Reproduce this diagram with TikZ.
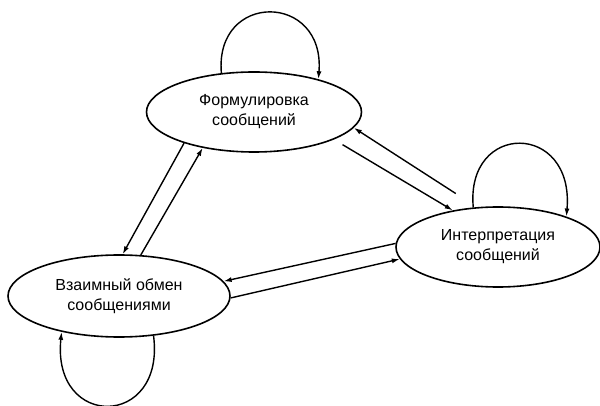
\documentclass[tikz,border=0pt]{standalone}
\usepackage{fontspec}
\setmainfont{Liberation Sans}
\usetikzlibrary{shapes.geometric,arrows.meta}

\begin{document}
\begin{tikzpicture}[x=1pt, y=-1pt,
    state/.style = {draw, ellipse, line width=1.6pt, inner sep=0pt, align=center, font=\fontsize{16}{20}\selectfont},
    link/.style = {line width=1.4pt, -{Latex[length=8pt, width=5pt]}}]
    % Frame
    \useasboundingbox (0,0) rectangle (600,406);

    % Draw the three states
    \node[state, minimum width=215pt, minimum height=80pt] (form) at (254,112) {Формулировка\\сообщений};
    \node[state, minimum width=204pt, minimum height=80pt] (interp) at (498,247) {Интерпретация\\сообщений};
    \node[state, minimum width=222pt, minimum height=82pt] (obmen) at (119,296) {Взаимный обмен\\сообщениями};

    % Arrows between formulation and exchange
    \draw[link] (form.204) -- (obmen.85);
    \draw[link] (obmen.62) -- (form.215);
    % Arrows between formulation and interpretation
    \draw[link, shorten <=25pt] (interp.118) -- (form.-9);
    \draw[link, shorten <=10pt] (form.-19) -- (interp.141);
    % Arrows between interpretation and exchange
    \draw[link] (interp.178) -- (obmen.8.6);
    \draw[link] (obmen.-1) -- (interp.187.5);

    % Draw the loops
    \draw[link] (form.130) .. controls +(-7,-82) and +(7,-87) .. (form.27);
    \draw[link] (interp.122) .. controls +(-8,-86) and +(8,-95) .. (interp.24);
    \draw[link] (obmen.-49) .. controls +(12,93) and +(-10,98) .. (obmen.212);
\end{tikzpicture}
\end{document}
